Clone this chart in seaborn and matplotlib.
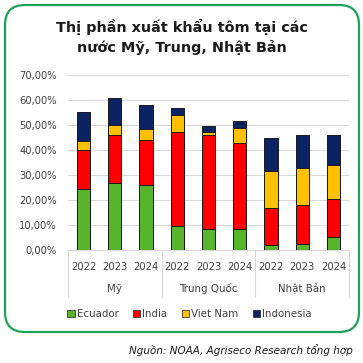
import matplotlib.pyplot as plt
import seaborn as sns
import numpy as np
import pandas as pd
from matplotlib.patches import FancyBboxPatch

#data (share of shrimp imports, %)
markets = ['Mỹ', 'Trung Quốc', 'Nhật Bản']
years = ['2022', '2023', '2024']
ecuador = [24.4, 26.8, 26.2, 9.8, 8.3, 8.6, 1.9, 2.5, 5.1]
india = [15.5, 19.3, 17.9, 37.3, 37.6, 34.3, 14.8, 15.7, 15.3]
vietnam = [3.6, 4.0, 4.2, 7.1, 1.2, 5.8, 15.1, 14.5, 13.5]
indonesia = [11.6, 10.6, 9.7, 2.5, 2.4, 3.1, 12.9, 13.5, 12.3]
series_names = ['Ecuador', 'India', 'Viet Nam', 'Indonesia']
y_ticks = [0, 10, 20, 30, 40, 50, 60, 70]

#colors
colors = {
    'Ecuador': '#58B42B',
    'India': '#FF0000',
    'Viet Nam': '#FFC000',
    'Indonesia': '#0B2362'
}

#build table: one row per bar
cats = [f'{m} {y}' for m in markets for y in years]
df = pd.DataFrame({'cat': cats, 'Ecuador': ecuador, 'India': india,
                   'Viet Nam': vietnam, 'Indonesia': indonesia})
#cumulative totals for stacking
cum = df[series_names].cumsum(axis=1)

sns.set_style('white')
plt.rcParams['font.family'] = ['DejaVu Sans']

fig = plt.figure(figsize=(3.63, 3.63), dpi=100)
ax = fig.add_axes([68 / 363, 1 - 250 / 363, 281 / 363, 175 / 363])

#draw from the top layer down so each shorter bar sits on top
for name in reversed(series_names):
    sns.barplot(x=df['cat'], y=cum[name] / 100, color=colors[name],
                width=0.42, edgecolor='#1a1a1a', linewidth=0.7,
                saturation=1, ax=ax, zorder=3)

ax.set_ylim(0, 0.70)
ax.set_xlim(-0.5, 8.5)
ax.set_yticks([t / 100 for t in y_ticks])
ax.yaxis.set_major_formatter(plt.FuncFormatter(lambda v, _: f'{v * 100:.2f}%'.replace('.', ',')))
ax.set_xticks(range(9))
ax.set_xticklabels(years * 3)
ax.tick_params(axis='both', length=0, labelsize=7.2, colors='#404040')
ax.tick_params(axis='y', pad=8)
ax.tick_params(axis='x', pad=9)
ax.set_xlabel('')
ax.set_ylabel('')
ax.grid(axis='y', color='#d9d9d9', linewidth=0.8, zorder=0)
ax.set_axisbelow(True)
for s in ['top', 'right', 'left']:
    ax.spines[s].set_visible(False)
ax.spines['bottom'].set_color('#d9d9d9')

#group labels and separators below the axis
tr = ax.get_xaxis_transform()
for i, m in enumerate(markets):
    ax.text(i * 3 + 1, -39 / 175, m, transform=tr, ha='center', va='center',
            fontsize=7.4, color='#404040')
for x in [-0.5, 2.5, 5.5, 8.5]:
    ax.plot([x, x], [0, -47 / 175], transform=tr, color='#d9d9d9',
            linewidth=0.8, clip_on=False)

#title
fig.text(0.5, 1 - 37 / 363, 'Thị phần xuất khẩu tôm tại các\nnước Mỹ, Trung, Nhật Bản',
         ha='center', va='center', fontsize=10.4, fontweight='bold',
         color='#1a1a1a', linespacing=1.45)

#legend
handles = [plt.Rectangle((0, 0), 1, 1, facecolor=colors[n], edgecolor='#1a1a1a', linewidth=0.5)
           for n in series_names]
fig.legend(handles, series_names, loc='center', bbox_to_anchor=(0.522, 1 - 314 / 363),
           ncol=4, frameon=False, fontsize=7.4, handlelength=0.7, handleheight=0.7,
           handletextpad=0.2, columnspacing=1.4, labelcolor='#404040')

#green rounded frame
frame = FancyBboxPatch((5 / 363, 1 - 332 / 363), 354 / 363, 327 / 363,
                       boxstyle='round,pad=0,rounding_size=0.055',
                       transform=fig.transFigure, facecolor='none',
                       edgecolor='#1BA35A', linewidth=1.6)
fig.patches.append(frame)

#source note
fig.text(353 / 363, 1 - 350 / 363, 'Nguồn: NOAA, Agriseco Research tổng hợp',
         ha='right', va='center', fontsize=7.5, style='italic', color='#1a1a1a')

fig.savefig('out.png', dpi=100)
